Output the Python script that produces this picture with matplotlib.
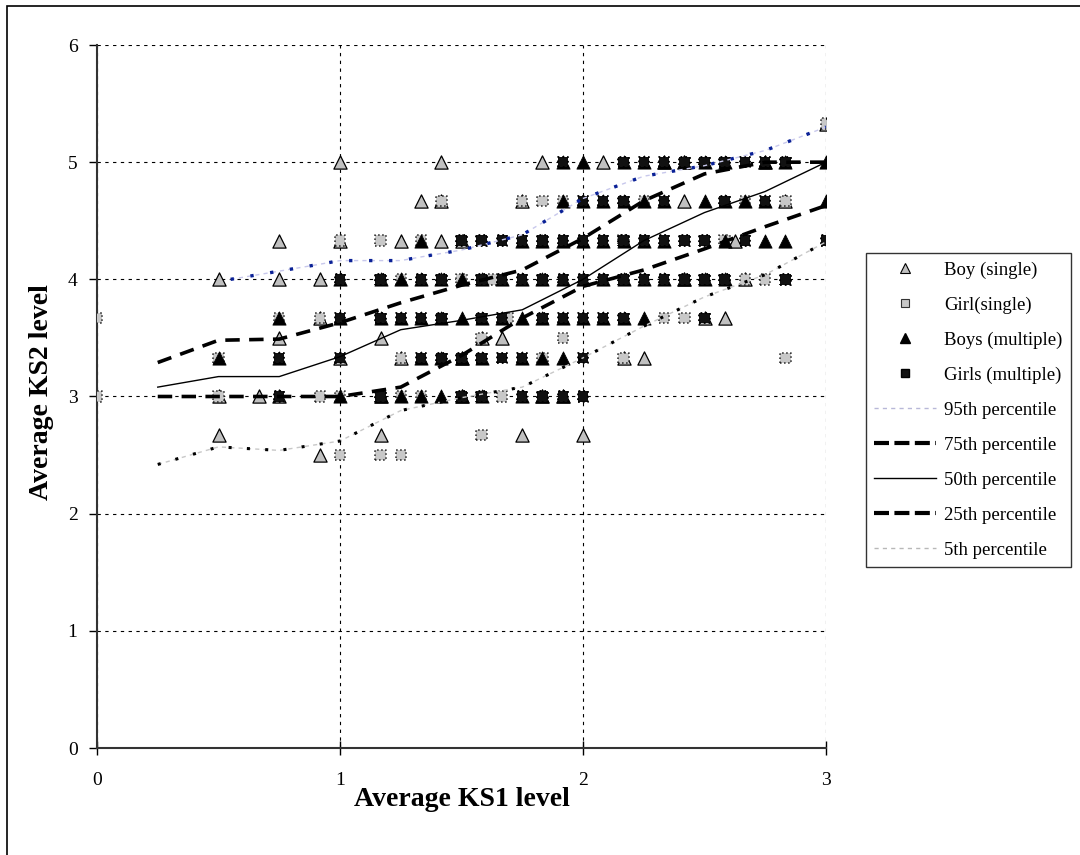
import matplotlib
matplotlib.use('Agg')
import matplotlib.pyplot as plt
from matplotlib.lines import Line2D
from matplotlib.patches import Rectangle

plt.rcParams['font.family'] = ['Liberation Serif', 'DejaVu Serif']

# ---------------- data ----------------
boy_single_x = [
    0.5, 0.5, 0.5,
    0.667,
    0.75, 0.75, 0.75, 0.75,
    0.917, 0.917, 0.917,
    1.0, 1.0, 1.0,
    1.167, 1.167, 1.167,
    1.25, 1.25,
    1.333,
    1.417, 1.417, 1.417,
    1.5, 1.5, 1.5,
    1.583,
    1.667,
    1.75, 1.75,
    1.833, 1.833,
    1.917,
    2.0,
    2.083,
    2.167,
    2.25,
    2.333,
    2.417, 2.417, 2.417,
    2.5,
    2.583, 2.625,
    2.667,
    2.75,
    2.833,
    3.0,
]
boy_single_y = [
    4.0, 3.0, 2.67,
    3.0,
    4.33, 4.0, 3.5, 3.0,
    4.0, 3.67, 2.5,
    5.0, 4.33, 3.33,
    3.5, 3.0, 2.67,
    4.33, 3.33,
    4.67,
    5.0, 4.67, 4.33,
    4.33, 3.33, 3.0,
    3.5,
    3.5,
    4.67, 2.67,
    5.0, 3.0,
    3.0,
    2.67,
    5.0,
    3.33,
    3.33,
    5.0,
    5.0, 4.67, 4.0,
    3.67,
    3.67, 4.33,
    4.0,
    5.0,
    4.67,
    5.33,
]

girl_single_x = [
    0.0, 0.0,
    0.5, 0.5,
    0.75,
    0.917, 0.917,
    1.0, 1.0, 1.0,
    1.167, 1.167,
    1.25, 1.25, 1.25, 1.25,
    1.333, 1.333,
    1.417,
    1.5,
    1.583, 1.583,
    1.625,
    1.69,
    1.667,
    1.75,
    1.833, 1.833,
    1.917, 1.917,
    2.167, 2.167,
    2.25,
    2.333,
    2.417,
    2.583,
    2.667, 2.667,
    2.75,
    2.833, 2.833,
    3.0,
]
girl_single_y = [
    3.67, 3.0,
    3.33, 3.0,
    3.67,
    3.67, 3.0,
    4.33, 3.0, 2.5,
    4.33, 2.5,
    4.0, 3.33, 3.0, 2.5,
    4.33, 3.0,
    4.67,
    4.0,
    3.5, 2.67,
    4.0,
    3.67,
    3.0,
    4.67,
    4.67, 3.33,
    4.67, 3.5,
    4.33, 3.33,
    4.67,
    3.67,
    3.67,
    4.33,
    4.67, 4.0,
    4.0,
    4.67, 3.33,
    5.33,
]

boys_multiple_x = [
    0.5,
    0.75, 0.75,
    1.0, 1.0, 1.0,
    1.167, 1.167, 1.167,
    1.25, 1.25, 1.25,
    1.333, 1.333, 1.333, 1.333, 1.333,
    1.417, 1.417, 1.417, 1.417,
    1.5, 1.5, 1.5, 1.5,
    1.583, 1.583, 1.583, 1.583,
    1.667, 1.667,
    1.75, 1.75, 1.75, 1.75, 1.75,
    1.833, 1.833, 1.833, 1.833, 1.833,
    1.917, 1.917, 1.917, 1.917, 1.917, 1.917, 1.917,
    2.0, 2.0, 2.0, 2.0, 2.0,
    2.083, 2.083, 2.083, 2.083,
    2.167, 2.167, 2.167, 2.167, 2.167,
    2.25, 2.25, 2.25, 2.25, 2.25,
    2.333, 2.333, 2.333, 2.333,
    2.417, 2.417,
    2.5, 2.5, 2.5,
    2.583, 2.583, 2.583, 2.583,
    2.667,
    2.75, 2.75, 2.75,
    2.833, 2.833,
    3.0, 3.0,
]
boys_multiple_y = [
    3.33,
    3.67, 3.33,
    4.0, 3.67, 3.0,
    4.0, 3.67, 3.0,
    4.0, 3.67, 3.0,
    4.33, 4.0, 3.67, 3.33, 3.0,
    4.0, 3.67, 3.33, 3.0,
    4.0, 3.67, 3.33, 3.0,
    4.0, 3.67, 3.33, 3.0,
    4.0, 3.67,
    4.33, 4.0, 3.67, 3.33, 3.0,
    4.33, 4.0, 3.67, 3.33, 3.0,
    5.0, 4.67, 4.33, 4.0, 3.67, 3.33, 3.0,
    5.0, 4.67, 4.33, 4.0, 3.67,
    4.67, 4.33, 4.0, 3.67,
    5.0, 4.67, 4.33, 4.0, 3.67,
    5.0, 4.67, 4.33, 4.0, 3.67,
    5.0, 4.67, 4.33, 4.0,
    5.0, 4.0,
    5.0, 4.67, 4.0,
    5.0, 4.67, 4.33, 4.0,
    4.67,
    5.0, 4.67, 4.33,
    5.0, 4.33,
    5.0, 4.67,
]

girls_multiple_x = [
    0.75, 0.75,
    1.0, 1.0, 1.0,
    1.167, 1.167, 1.167,
    1.25,
    1.333, 1.333, 1.333,
    1.417, 1.417, 1.417,
    1.5, 1.5, 1.5,
    1.583, 1.583, 1.583, 1.583, 1.583,
    1.667, 1.667, 1.667, 1.667,
    1.75, 1.75, 1.75, 1.75,
    1.833, 1.833, 1.833, 1.833,
    1.917, 1.917, 1.917, 1.917, 1.917,
    2.0, 2.0, 2.0, 2.0, 2.0, 2.0,
    2.083, 2.083, 2.083, 2.083,
    2.167, 2.167, 2.167, 2.167, 2.167,
    2.25, 2.25, 2.25,
    2.333, 2.333, 2.333, 2.333,
    2.417, 2.417, 2.417,
    2.5, 2.5, 2.5, 2.5,
    2.583, 2.583, 2.583,
    2.667, 2.667,
    2.75, 2.75,
    2.833, 2.833,
    3.0,
]
girls_multiple_y = [
    3.33, 3.0,
    4.0, 3.67, 3.33,
    4.0, 3.67, 3.0,
    3.67,
    4.0, 3.67, 3.33,
    4.0, 3.67, 3.33,
    4.33, 3.33, 3.0,
    4.33, 4.0, 3.67, 3.33, 3.0,
    4.33, 4.0, 3.67, 3.33,
    4.33, 4.0, 3.33, 3.0,
    4.33, 4.0, 3.67, 3.0,
    5.0, 4.33, 4.0, 3.67, 3.0,
    4.67, 4.33, 4.0, 3.67, 3.33, 3.0,
    4.67, 4.33, 4.0, 3.67,
    5.0, 4.67, 4.33, 4.0, 3.67,
    5.0, 4.33, 4.0,
    5.0, 4.67, 4.33, 4.0,
    5.0, 4.33, 4.0,
    5.0, 4.33, 4.0, 3.67,
    5.0, 4.67, 4.0,
    5.0, 4.33,
    5.0, 4.67,
    5.0, 4.0,
    4.33,
]

p95_x = [0.55, 0.75, 0.92, 1.0, 1.25, 1.33, 1.5, 1.75, 2.0, 2.25, 2.5, 2.75, 3.0]
p95_y = [4.0, 4.07, 4.13, 4.16, 4.16, 4.19, 4.25, 4.38, 4.69, 4.88, 4.97, 5.1, 5.3]

pct_x = [0.25, 0.5, 0.75, 1.0, 1.25, 1.5, 1.75, 2.0, 2.25, 2.5, 2.75, 3.0]
p75_y = [3.29, 3.48, 3.49, 3.63, 3.8, 3.95, 4.08, 4.35, 4.67, 4.9, 5.0, 5.0]
p50_y = [3.08, 3.17, 3.17, 3.34, 3.57, 3.65, 3.74, 4.0, 4.33, 4.57, 4.75, 5.0]
p25_y = [3.0, 3.0, 3.0, 3.0, 3.08, 3.35, 3.67, 3.94, 4.08, 4.26, 4.45, 4.63]
p5_y = [2.42, 2.57, 2.54, 2.62, 2.88, 2.99, 3.08, 3.33, 3.6, 3.85, 4.04, 4.32]

x_ticks = [0, 1, 2, 3]
y_ticks = [0, 1, 2, 3, 4, 5, 6]

legend_labels = ['Boy (single)', 'Girl(single)', 'Boys (multiple)', 'Girls (multiple)',
                 '95th percentile', '75th percentile', '50th percentile',
                 '25th percentile', '5th percentile']

# ---------------- figure ----------------
fig = plt.figure(figsize=(10.8, 8.55), dpi=100)
ax = fig.add_axes([97 / 1080, 1 - 748 / 855, 729 / 1080, 703 / 855])

ax.scatter(boy_single_x, boy_single_y, marker='^', s=9.5 ** 2, facecolor='#c0c0c0',
           edgecolor='black', linewidths=0.9, zorder=3)
ax.scatter(girl_single_x, girl_single_y, marker='s', s=7.5 ** 2, facecolor='#c8c8c8',
           edgecolor='#222222', linewidths=1.1, linestyles=':', zorder=4)
ax.scatter(boys_multiple_x, boys_multiple_y, marker='^', s=9.5 ** 2, facecolor='black',
           edgecolor='black', linewidths=0.6, zorder=5)
ax.scatter(girls_multiple_x, girls_multiple_y, marker='s', s=7.5 ** 2, facecolor='#111111',
           edgecolor='black', linewidths=1.3, linestyles=':', zorder=6)

# percentile lines
ax.plot(p95_x, p95_y, color='#c8c8ec', lw=1.0, ls=(0, (3, 3)), zorder=7)
ax.plot(p95_x, p95_y, color='#0a2196', lw=2.4, ls=(0, (1, 5)), zorder=8)
ax.plot(pct_x, p75_y, color='black', lw=2.6, ls=(0, (4, 2.6)), zorder=8)
ax.plot(pct_x, p50_y, color='black', lw=1.0, ls='-', zorder=8)
ax.plot(pct_x, p25_y, color='black', lw=2.6, ls=(0, (4, 2.6)), zorder=8)
ax.plot(pct_x, p5_y, color='#c8c8c8', lw=1.0, ls=(0, (3, 3)), zorder=7)
ax.plot(pct_x, p5_y, color='black', lw=2.2, ls=(0, (1, 5)), zorder=8)

ax.set_xlim(0, 3)
ax.set_ylim(0, 6)
ax.set_xticks(x_ticks)
ax.set_yticks(y_ticks)
ax.grid(True, color='black', linestyle=(0, (3, 4)), linewidth=0.8, zorder=1)
ax.set_axisbelow(True)
for side in ['top', 'right']:
    ax.spines[side].set_visible(False)
for side in ['left', 'bottom']:
    ax.spines[side].set_color('#333333')
    ax.spines[side].set_linewidth(1.5)
ax.tick_params(axis='y', direction='out', length=6, width=1, pad=8, labelsize=14)
ax.tick_params(axis='x', direction='inout', length=10, width=1, pad=12, labelsize=14)

fig.text(462 / 1080, 1 - 799 / 855, 'Average KS1 level', ha='center', va='center',
         fontsize=20, fontweight='bold')
fig.text(42 / 1080, 1 - 392 / 855, 'Average KS2 level', ha='center', va='center',
         rotation=90, fontsize=20, fontweight='bold')

handles = [
    Line2D([], [], marker='^', ls='none', markerfacecolor='#c0c0c0', markeredgecolor='black',
           markersize=7, markeredgewidth=0.8),
    Line2D([], [], marker='s', ls='none', markerfacecolor='#c8c8c8', markeredgecolor='#333333',
           markersize=6, markeredgewidth=0.8),
    Line2D([], [], marker='^', ls='none', markerfacecolor='black', markeredgecolor='black',
           markersize=7),
    Line2D([], [], marker='s', ls='none', markerfacecolor='#111111', markeredgecolor='black',
           markersize=6),
    Line2D([], [], color='#b8b8d8', lw=1, ls=(0, (3, 3))),
    Line2D([], [], color='black', lw=3, ls=(0, (3.6, 1.3))),
    Line2D([], [], color='black', lw=1, ls='-'),
    Line2D([], [], color='black', lw=3, ls=(0, (3.6, 1.3))),
    Line2D([], [], color='#b8b8b8', lw=1, ls=(0, (3, 3))),
]
leg = fig.legend(handles, legend_labels, loc='upper left',
                 bbox_to_anchor=(866 / 1080, 1 - 253 / 855), frameon=True, fancybox=False,
                 edgecolor='black', fontsize=13.5, handlelength=3.3, labelspacing=0.95,
                 borderpad=0.45, handletextpad=0.4, borderaxespad=0, numpoints=1)
leg.get_frame().set_linewidth(1.0)

fig.add_artist(Rectangle((7 / 1080, -0.1), 1.2, 1.1 - 6 / 855, transform=fig.transFigure,
                         fill=False, edgecolor='black', lw=1.2))

fig.savefig('out.png', dpi=100)
